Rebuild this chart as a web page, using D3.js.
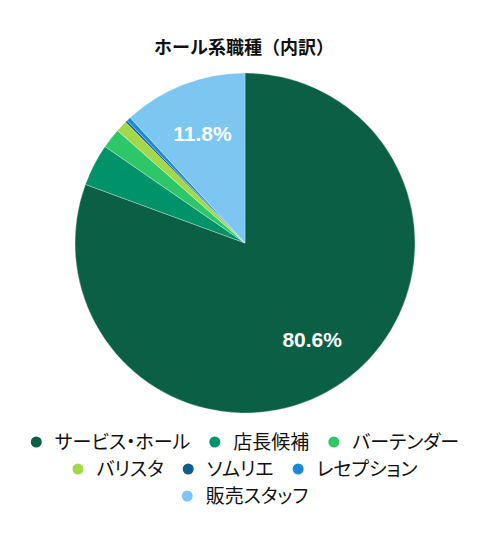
<!DOCTYPE html>
<html>
<head>
<meta charset="utf-8">
<script src="https://cdn.jsdelivr.net/npm/d3@7"></script>
<style>
  body { margin: 0; background: #fff; }
  svg { display: block; font-family: "Noto Sans CJK JP", "Noto Sans", sans-serif; }
  .legend-text { font-feature-settings: "palt"; }
</style>
</head>
<body>
<svg id="canvas"></svg>
<script>
let title = "ホール系職種（内訳）";
let categories = ["サービス・ホール", "店長候補", "バーテンダー", "バリスタ", "ソムリエ", "レセプション", "販売スタッフ"];
let shares = [80.6, 4.0, 1.9, 1.1, 0.2, 0.4, 11.8];
let colors = ["#0a5f45", "#00936a", "#2dc76a", "#a4d84b", "#135b8a", "#1a8ad8", "#7cc7f2"];
let shownLabels = ["80.6%", null, null, null, null, null, "11.8%"];

let width = 491;
let height = 535;
let cx = 245;
let cy = 243;
let radius = 170;

let canvas = d3.select("#canvas")
canvas.attr("width", width)
canvas.attr("height", height)

let values = categories.map((c, i) => ({ name: c, value: shares[i], color: colors[i], label: shownLabels[i] }))

let drawTitle = () => {
    canvas.append("text")
          .attr("x", cx - 1)
          .attr("y", 54)
          .attr("text-anchor", "middle")
          .style("font-size", "18px")
          .style("font-weight", "bold")
          .style("fill", "#111")
          .text(title)
}

let drawPie = () => {
    let pie = d3.pie()
                .sort(null)
                .value((d) => d.value)
    let arc = d3.arc().innerRadius(0).outerRadius(radius)
    let labelArc = d3.arc().innerRadius(radius * 0.69).outerRadius(radius * 0.69)

    let g = canvas.append("g")
                  .attr("transform", "translate(" + cx + "," + cy + ")")

    let arcs = pie(values)

    g.selectAll("path")
     .data(arcs)
     .enter()
     .append("path")
     .attr("d", arc)
     .attr("fill", (d) => d.data.color)
     .attr("stroke", "#ffffff")
     .attr("stroke-width", 0.3)

    g.selectAll("text")
     .data(arcs.filter((d) => d.data.label))
     .enter()
     .append("text")
     .attr("transform", (d) => "translate(" + labelArc.centroid(d) + ")")
     .attr("text-anchor", "middle")
     .attr("dy", "0.35em")
     .style("font-family", "Liberation Sans, Arial, sans-serif")
     .style("font-size", "21px")
     .style("font-weight", "bold")
     .style("fill", "#fff")
     .text((d) => d.data.label)
}

let drawLegend = () => {
    let maxWidth = 450;
    let rowH = 27;
    let firstRowY = 442;
    let gap = 19;

    let legend = canvas.append("g")
    let items = values.map((d) => {
        let item = legend.append("g")
        item.append("circle")
            .attr("r", 5.5)
            .attr("cx", 5.5)
            .attr("cy", 0)
            .attr("fill", d.color)
        let t = item.append("text")
            .attr("class", "legend-text")
            .attr("x", 24)
            .attr("dy", "0.35em")
            .style("font-size", "19px")
            .style("fill", "#111")
            .text(d.name)
        let w = 24 + t.node().getComputedTextLength()
        return { node: item, w: w }
    })

    // wrap into rows
    let rows = [[]];
    let rowW = 0;
    items.forEach((it) => {
        let add = rows[rows.length - 1].length ? gap + it.w : it.w
        if (rowW + add > maxWidth && rows[rows.length - 1].length) {
            rows.push([it]);
            rowW = it.w;
        } else {
            rows[rows.length - 1].push(it);
            rowW += add;
        }
    })

    rows.forEach((row, r) => {
        let total = d3.sum(row, (it) => it.w) + gap * (row.length - 1)
        let x = cx - total / 2
        row.forEach((it) => {
            it.node.attr("transform", "translate(" + x + "," + (firstRowY + r * rowH) + ")")
            x += it.w + gap
        })
    })
}

drawTitle();
drawPie();
drawLegend();
</script>
</body>
</html>
